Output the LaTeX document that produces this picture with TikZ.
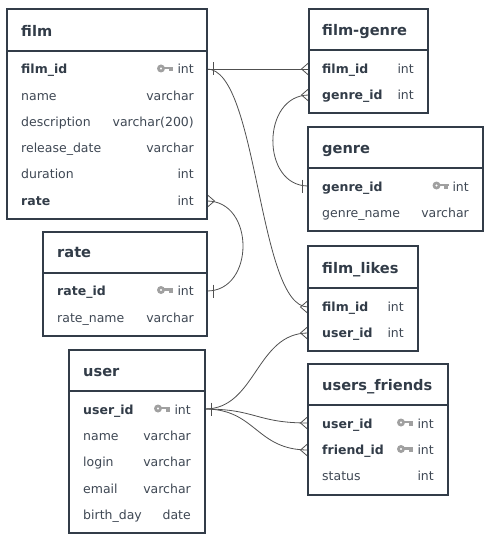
\documentclass[tikz,border=0pt]{standalone}
\usepackage{fontspec}
\setmainfont{DejaVu Sans}
\definecolor{edge}{HTML}{323C48}
\definecolor{ink}{HTML}{3F4854}
\definecolor{keyc}{HTML}{A0A0A0}
\definecolor{wire}{HTML}{505050}
\newcommand{\pkkey}[2]{%
  \fill[keyc,even odd rule] (#1,#2) circle (4) (#1,#2) circle (1.3);
  \fill[keyc] (#1+3,#2-1.8) rectangle (#1+12,#2+0.7);
  \fill[keyc] (#1+7.5,#2) rectangle (#1+11.5,#2+3);}
\newcommand{\tbl}[6]{% name x1 y1 x2 y2 yline
  \node[tablebox,minimum width=#4pt-#2pt,minimum height=#5pt-#3pt] (#1) at ({(#2+#4)/2},{(#3+#5)/2}) {};
  \draw[tableline] (#2,#6) -- (#4,#6);}
\tikzset{
  tablebox/.style={draw=edge,line width=1.9pt,fill=white,inner sep=0pt,outer sep=0pt,rectangle},
  tableline/.style={draw=edge,line width=1.9pt},
  title/.style={anchor=base west,inner sep=0pt,yshift=-0.7pt,text=edge,font=\fontsize{14.6}{16}\selectfont\bfseries},
  fld/.style={anchor=base west,inner sep=0pt,yshift=-0.5pt,text=ink,font=\fontsize{12.5}{14}\selectfont},
  pkf/.style={anchor=base west,inner sep=0pt,yshift=-0.5pt,text=edge,font=\fontsize{12.5}{14}\selectfont\bfseries},
  typ/.style={anchor=base east,inner sep=0pt,yshift=-0.5pt,text=ink,font=\fontsize{12.5}{14}\selectfont},
  link/.style={draw=wire,line width=0.8pt,line join=miter},
}
\newcommand{\one}[2]{\draw[link] ($(#1)+(#2*6,-6.5)$) -- ($(#1)+(#2*6,6.5)$);}
\newcommand{\many}[2]{\draw[link] ($(#1)+(0,-6.5)$) -- ($(#1)+(#2*7.5,0)$) -- ($(#1)+(0,6.5)$);}
\usetikzlibrary{calc}
\begin{document}
\begin{tikzpicture}[x=1pt,y=-1pt]
\useasboundingbox (0,0) rectangle (490,540);
\fill[white] (0,0) rectangle (490,540);
% connectors first
\coordinate (pfilm) at (207,69);
\coordinate (prate) at (207,201);
\coordinate (pfg1) at (309,69);
\coordinate (pfg2) at (309,95);
\coordinate (pgenre) at (308,186);
\coordinate (pfl1) at (308,307);
\coordinate (pfl2) at (308,333);
\coordinate (prateid) at (207,291);
\coordinate (puser) at (205,409);
\coordinate (puf1) at (308,423);
\coordinate (puf2) at (308,450);
\draw[link] (pfilm) .. controls (258,69) and (258,69) .. (pfg1);
\draw[link] (pfilm) .. controls (258,69) and (258,307) .. (pfl1);
\draw[link] (pfg2) .. controls (261,95) and (261,186) .. (pgenre);
\draw[link] (prate) .. controls (255,201) and (255,291) .. (prateid);
\draw[link] (puser) .. controls (256,409) and (256,333) .. (pfl2);
\draw[link] (puser) .. controls (256,409) and (256,423) .. (puf1);
\draw[link] (puser) .. controls (256,409) and (256,450) .. (puf2);
\one{pfilm}{1} \one{prateid}{1} \one{puser}{1} \one{pgenre}{-1}
\many{pfg1}{-1} \many{pfg2}{-1} \many{pfl1}{-1} \many{pfl2}{-1} \many{puf1}{-1} \many{puf2}{-1} \many{prate}{1}
% film
\tbl{film}{7}{9}{207}{219}{51}
\node[title] (t1) at (21,36) {film};
\node[pkf] (f11) at (21,73) {film\_id}; \pkkey{161}{68.5} \node[typ] (y11) at (194,73) {int};
\node[fld] (f12) at (21,100) {name}; \node[typ] (y12) at (194,100) {varchar};
\node[fld] (f13) at (21,126) {description}; \node[typ] (y13) at (194,126) {varchar(200)};
\node[fld] (f14) at (21,152) {release\_date}; \node[typ] (y14) at (194,152) {varchar};
\node[fld] (f15) at (21,178) {duration}; \node[typ] (y15) at (194,178) {int};
\node[pkf] (f16) at (21,205) {rate}; \node[typ] (y16) at (194,205) {int};
% film-genre
\tbl{fg}{309}{9}{428}{113}{50}
\node[title] (t2) at (322,35) {film-genre};
\node[pkf] (f21) at (322,73) {film\_id}; \node[typ] (y21) at (414,73) {int};
\node[pkf] (f22) at (322,99) {genre\_id}; \node[typ] (y22) at (414,99) {int};
% genre
\tbl{genre}{308}{127}{483}{231}{168}
\node[title] (t3) at (322,153) {genre};
\node[pkf] (f31) at (322,191) {genre\_id}; \pkkey{436.5}{185.5} \node[typ] (y31) at (469,191) {int};
\node[fld] (f32) at (322,217) {genre\_name}; \node[typ] (y32) at (469,217) {varchar};
% rate
\tbl{rate}{43}{232}{207}{336}{273}
\node[title] (t4) at (57,257) {rate};
\node[pkf] (f41) at (57,295) {rate\_id}; \pkkey{161}{290} \node[typ] (y41) at (194,295) {int};
\node[fld] (f42) at (57,322) {rate\_name}; \node[typ] (y42) at (194,322) {varchar};
% film_likes
\tbl{fl}{308}{246}{418}{351}{288}
\node[title] (t5) at (322,273) {film\_likes};
\node[pkf] (f51) at (322,311) {film\_id}; \node[typ] (y51) at (404,311) {int};
\node[pkf] (f52) at (322,337) {user\_id}; \node[typ] (y52) at (404,337) {int};
% user
\tbl{user}{69}{350}{205}{533}{391}
\node[title] (t6) at (83,376) {user};
\node[pkf] (f61) at (83,413.5) {user\_id}; \pkkey{158}{408.5} \node[typ] (y61) at (191,413.5) {int};
\node[fld] (f62) at (83,440) {name}; \node[typ] (y62) at (191,440) {varchar};
\node[fld] (f63) at (83,466) {login}; \node[typ] (y63) at (191,466) {varchar};
\node[fld] (f64) at (83,493) {email}; \node[typ] (y64) at (191,493) {varchar};
\node[fld] (f65) at (83,519) {birth\_day}; \node[typ] (y65) at (191,519) {date};
% users_friends
\tbl{uf}{308}{364}{448}{495}{405}
\node[title] (t7) at (322,390) {users\_friends};
\node[pkf] (f71) at (322,428) {user\_id}; \pkkey{401}{422.5} \node[typ] (y71) at (434,428) {int};
\node[pkf] (f72) at (322,454) {friend\_id}; \pkkey{401}{449} \node[typ] (y72) at (434,454) {int};
\node[fld] (f73) at (322,480) {status}; \node[typ] (y73) at (434,480) {int};
\end{tikzpicture}
\end{document}
